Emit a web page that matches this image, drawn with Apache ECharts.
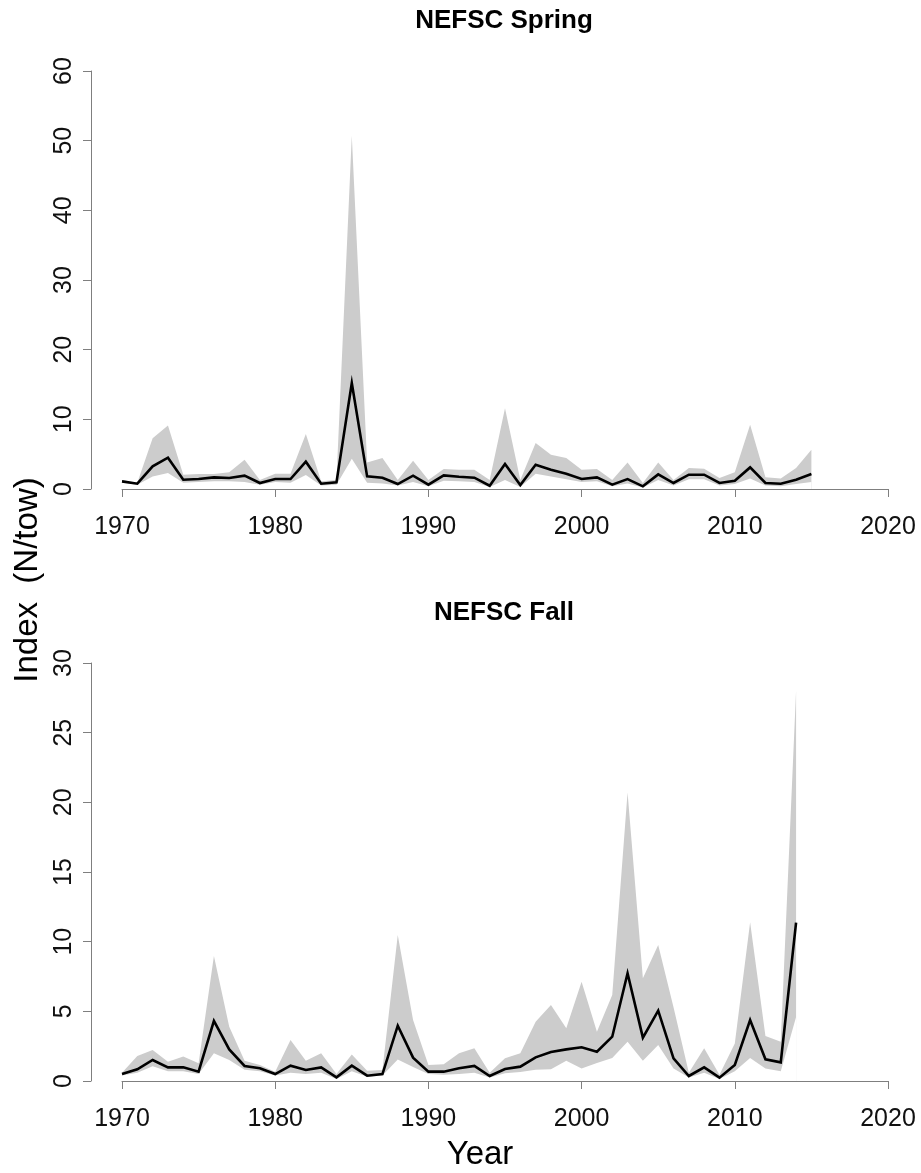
<!DOCTYPE html>
<html>
<head>
<meta charset="utf-8">
<script src="https://cdn.jsdelivr.net/npm/echarts@6/dist/echarts.min.js"></script>
<style>
html,body{margin:0;padding:0;background:#fff;}
#chart{width:921px;height:1173px;}
</style>
</head>
<body>
<div id="chart"></div>
<script>
// ---------- data ----------
const springYears = [1970,1971,1972,1973,1974,1975,1976,1977,1978,1979,
  1980,1981,1982,1983,1984,1985,1986,1987,1988,1989,
  1990,1991,1992,1993,1994,1995,1996,1997,1998,1999,
  2000,2001,2002,2003,2004,2005,2006,2007,2008,2009,
  2010,2011,2012,2013,2014,2015];
const springIndex = [1.09,0.76,3.25,4.49,1.33,1.43,1.67,1.57,1.91,0.86,
  1.43,1.43,3.92,0.76,0.95,15.2,1.81,1.62,0.71,1.91,
  0.62,1.95,1.76,1.62,0.47,3.59,0.57,3.49,2.77,2.2,
  1.43,1.67,0.62,1.43,0.38,2.1,0.86,2.05,2.05,0.86,
  1.19,3.1,0.86,0.76,1.33,2.15];
const springUpper = [1.3,0.9,7.3,9.1,2.05,2.15,2.15,2.4,4.2,1.3,
  2.2,2.2,7.9,1.1,1.3,50.7,3.82,4.45,1.3,4.06,
  1.3,2.87,2.77,2.77,1.3,11.6,1.3,6.6,4.92,4.45,
  2.77,2.87,1.3,3.82,0.86,3.82,1.3,3.0,2.9,1.57,
  2.4,9.22,1.67,1.5,3.0,5.64];
const springLower = [0.9,0.6,1.8,2.3,0.9,1.0,1.1,1.1,1.0,0.6,
  1.0,0.9,2.0,0.5,0.6,4.35,0.9,0.8,0.5,1.0,
  0.4,1.2,1.1,1.0,0.3,1.3,0.3,2.2,1.8,1.4,
  1.0,1.1,0.4,0.8,0.2,1.3,0.5,1.4,1.4,0.5,
  0.7,1.5,0.5,0.4,0.7,1.0];

const fallYears = [1970,1971,1972,1973,1974,1975,1976,1977,1978,1979,
  1980,1981,1982,1983,1984,1985,1986,1987,1988,1989,
  1990,1991,1992,1993,1994,1995,1996,1997,1998,1999,
  2000,2001,2002,2003,2004,2005,2006,2007,2008,2009,
  2010,2011,2012,2013,2014];
const fallIndex = [0.5,0.84,1.51,0.98,0.98,0.67,4.31,2.27,1.08,0.91,
  0.5,1.1,0.79,0.98,0.26,1.1,0.38,0.5,3.97,1.68,
  0.67,0.67,0.91,1.08,0.36,0.86,1.03,1.7,2.08,2.27,
  2.42,2.1,3.18,7.73,3.11,5.05,1.63,0.36,0.98,0.24,
  1.15,4.38,1.56,1.34,11.36];
const fallUpper = [0.6,1.8,2.23,1.39,1.75,1.27,8.97,3.9,1.46,1.15,
  0.67,2.94,1.46,1.99,0.5,1.91,0.74,0.79,10.48,4.38,
  1.15,1.2,2.0,2.35,0.6,1.63,1.99,4.26,5.46,3.78,
  7.13,3.54,6.17,20.7,7.37,9.76,5.3,0.6,2.35,0.45,
  2.7,11.4,3.23,2.82,28.0];
const fallLower = [0.4,0.6,1.05,0.7,0.7,0.5,1.99,1.5,0.8,0.7,
  0.4,0.6,0.5,0.6,0.15,0.7,0.3,0.4,1.55,1.0,
  0.5,0.45,0.5,0.6,0.25,0.55,0.65,0.8,0.85,1.45,
  0.9,1.3,1.65,2.82,1.45,2.58,0.9,0.25,0.6,0.15,
  0.7,1.65,0.9,0.7,4.6];

const xTicks = [1970,1980,1990,2000,2010,2020];
const springYTicks = [0,10,20,30,40,50,60];
const fallYTicks = [0,5,10,15,20,25,30];
const titles = ['NEFSC Spring','NEFSC Fall'];
const yTitle = 'Index  (N/tow)';
const xTitle = 'Year';

// ---------- styling ----------
const FONT = "'Liberation Sans', Arial, Helvetica, sans-serif";
const AXIS_COLOR = '#7f7f7f';
const BAND_COLOR = '#cccccc';

function pairs(xs, ys){ return xs.map((x,i)=>[x, ys[i]]); }

function xAxisCfg(gi){
  return {
    gridIndex: gi, type:'value', min: xTicks[0], max: xTicks[xTicks.length-1], interval: 10,
    offset: 17,
    axisLine:{show:true, lineStyle:{color:AXIS_COLOR, width:1}},
    axisTick:{show:true, length:8, lineStyle:{color:AXIS_COLOR, width:1}},
    axisLabel:{show:true, margin:9, fontSize:25, fontFamily:FONT, color:'#111',
      formatter: v => xTicks.includes(v) ? String(v) : ''},
    splitLine:{show:false}
  };
}
function yAxisCfg(gi, ticks){
  return {
    gridIndex: gi, type:'value', min: ticks[0], max: ticks[ticks.length-1],
    interval: ticks[1]-ticks[0], offset: 31,
    axisLine:{show:true, lineStyle:{color:AXIS_COLOR, width:1}},
    axisTick:{show:true, length:8, lineStyle:{color:AXIS_COLOR, width:1}},
    axisLabel:{show:true, rotate:90, margin:14, fontSize:25, fontFamily:FONT, color:'#111'},
    splitLine:{show:false}
  };
}
// Band: gray area from 0 up to the upper bound, then white area from 0 up to the lower bound.
function bandSeries(gi, years, lower, upper){
  return [
    {type:'line', xAxisIndex:gi, yAxisIndex:gi, data:pairs(years, upper),
     symbol:'none', silent:true, lineStyle:{width:0, color:BAND_COLOR},
     areaStyle:{color:BAND_COLOR, opacity:1, origin:'start'}, z:1},
    {type:'line', xAxisIndex:gi, yAxisIndex:gi, data:pairs(years, lower),
     symbol:'none', silent:true, lineStyle:{width:0, color:'#ffffff'},
     areaStyle:{color:'#ffffff', opacity:1, origin:'start'}, z:2}
  ];
}
function lineSeries(gi, years, vals){
  return {type:'line', xAxisIndex:gi, yAxisIndex:gi, data:pairs(years, vals),
    symbol:'none', silent:true, lineStyle:{color:'#000', width:2.6, join:'miter'}, z:3};
}

const chart = echarts.init(document.getElementById('chart'), null, {renderer:'canvas'});
chart.setOption({
  animation:false,
  backgroundColor:'#ffffff',
  grid:[
    {left:122, right:33, top:71, height:418, outerBoundsMode:'none', containLabel:false},
    {left:122, right:33, top:663, height:418, outerBoundsMode:'none', containLabel:false}
  ],
  xAxis:[xAxisCfg(0), xAxisCfg(1)],
  yAxis:[yAxisCfg(0, springYTicks), yAxisCfg(1, fallYTicks)],
  series:[
    ...bandSeries(0, springYears, springLower, springUpper),
    lineSeries(0, springYears, springIndex),
    ...bandSeries(1, fallYears, fallLower, fallUpper),
    lineSeries(1, fallYears, fallIndex)
  ],
  graphic:[
    {type:'text', x:504, y:21, style:{text:titles[0], font:"bold 26px "+FONT, fill:'#000', align:'center', verticalAlign:'middle'}},
    {type:'text', x:504, y:613, style:{text:titles[1], font:"bold 26px "+FONT, fill:'#000', align:'center', verticalAlign:'middle'}},
    {type:'text', x:28, y:580, rotation:Math.PI/2, style:{text:yTitle, font:"33px "+FONT, fill:'#000', align:'center', verticalAlign:'middle'}},
    {type:'text', x:480, y:1155, style:{text:xTitle, font:"33px "+FONT, fill:'#000', align:'center', verticalAlign:'middle'}}
  ]
});
</script>
</body>
</html>
